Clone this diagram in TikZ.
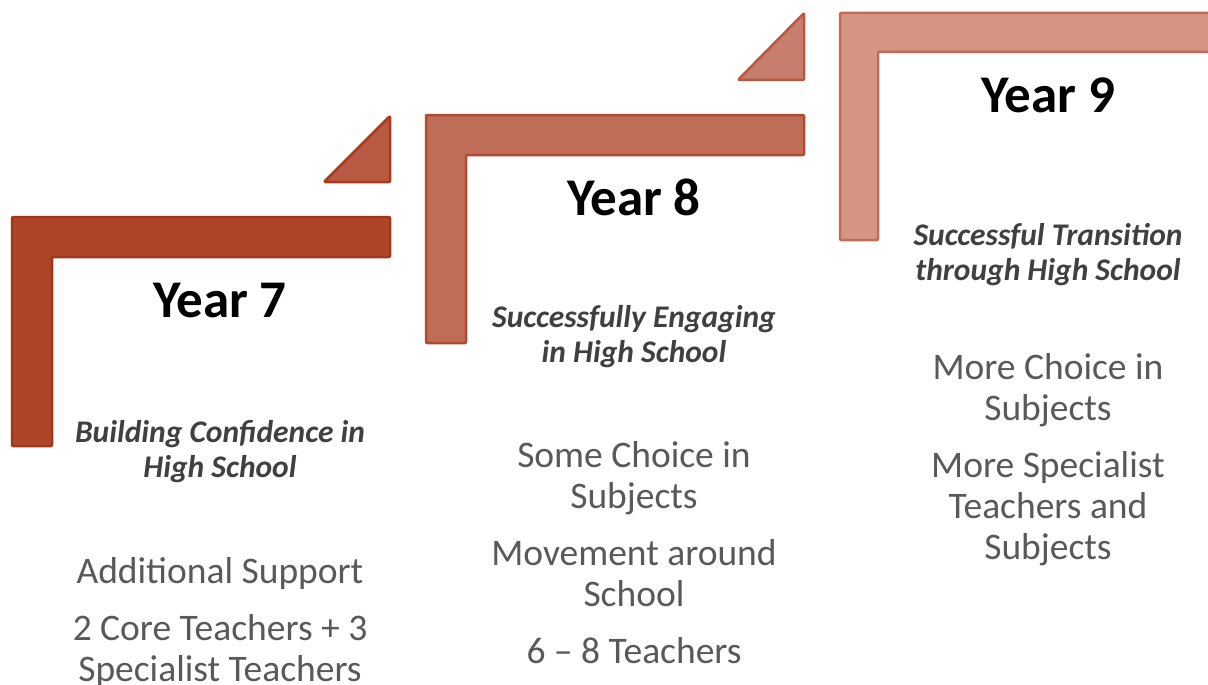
\documentclass[tikz,border=0pt]{standalone}
\usepackage{fontspec}
\setmainfont{Carlito}
\usetikzlibrary{positioning}

\definecolor{rustA}{HTML}{AE4428}
\definecolor{rustAline}{HTML}{A0361B}
\definecolor{rustB}{HTML}{B95A42}
\definecolor{rustBline}{HTML}{A83A20}
\definecolor{rustC}{HTML}{C06D57}
\definecolor{rustCline}{HTML}{B04A30}
\definecolor{rustD}{HTML}{C77E6C}
\definecolor{rustDline}{HTML}{B85840}
\definecolor{rustE}{HTML}{D49585}
\definecolor{rustEline}{HTML}{C46A55}
\definecolor{subgray}{HTML}{404040}
\definecolor{bodygray}{HTML}{595959}

\begin{document}
\begin{tikzpicture}[
    x=1pt, y=-1pt,
    bar/.style={line width=2.5pt, line join=round, rounded corners=1pt},
    heading/.style={inner sep=0pt, anchor=base, font=\bfseries\fontsize{53}{60}\selectfont},
    motto/.style={inner sep=0pt, anchor=north, align=center, text=subgray, font=\bfseries\itshape\fontsize{31.5}{35}\selectfont},
    detail/.style={inner sep=0pt, anchor=north, align=center, text=bodygray, font=\fontsize{37.5}{41}\selectfont}
]
\clip (0,0) rectangle (1208,685);
\fill[white] (0,0) rectangle (1208,685);

% Steps (L shapes) and corner triangles
\draw[bar, fill=rustA, draw=rustAline] (12,217) -- (390,217) -- (390,257) -- (52,257) -- (52,446) -- (12,446) -- cycle;
\draw[bar, fill=rustB, draw=rustBline] (324,182) -- (390,116) -- (390,182) -- cycle;
\draw[bar, fill=rustC, draw=rustCline] (426,115) -- (804,115) -- (804,155) -- (466,155) -- (466,343) -- (426,343) -- cycle;
\draw[bar, fill=rustD, draw=rustDline] (738,80) -- (804,13) -- (804,80) -- cycle;
\draw[bar, fill=rustE, draw=rustEline] (840,13) -- (1230,13) -- (1230,52) -- (878,52) -- (878,240) -- (840,240) -- cycle;

% Year headings
\node[heading] (y7) at (220,317) {Year 7};
\node[heading] (y8) at (634,215) {Year 8};
\node[heading] (y9) at (1048,112) {Year 9};

% Mottos
\node[motto] (y7motto) at (220,420) {Building Confidence in\\High School};
\node[motto] (y8motto) at (634,305) {Successfully Engaging\\in High School};
\node[motto] (y9motto) at (1048,223) {Successful Transition\\through High School};

% Details
\node[detail] (y7detail) at (220,557) {Additional Support\\[16pt]2 Core Teachers + 3\\Specialist Teachers};
\node[detail] (y8detail) at (634,441) {Some Choice in\\Subjects\\[16pt]Movement around\\School\\[16pt]6 – 8 Teachers};
\node[detail] (y9detail) at (1048,353) {More Choice in\\Subjects\\[16pt]More Specialist\\Teachers and\\Subjects};

\end{tikzpicture}
\end{document}
